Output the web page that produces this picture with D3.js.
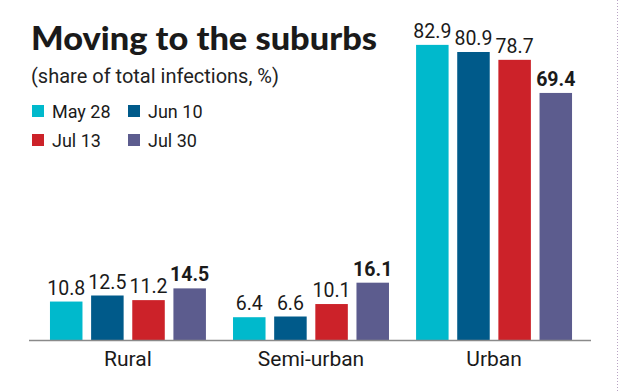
<!DOCTYPE html>
<html>
<head>
<meta charset="utf-8">
<script src="https://cdn.jsdelivr.net/npm/d3@7"></script>
<style>
  body { margin: 0; background: #fff; }
  svg text { font-family: Roboto, "Noto Sans", sans-serif; fill: #1a1a1a; }
</style>
</head>
<body>
<svg id="chart" width="620" height="391"></svg>
<script>
// data
const categories = ["Rural", "Semi-urban", "Urban"];
const seriesNames = ["May 28", "Jun 10", "Jul 13", "Jul 30"];
const seriesColors = ["#00b9cc", "#005a8a", "#cc2229", "#5c5c8e"];
const may28 = [10.8, 6.4, 82.9];
const jun10 = [12.5, 6.6, 80.9];
const jul13 = [11.2, 10.1, 78.7];
const jul30 = [14.5, 16.1, 69.4];
const allSeries = [may28, jun10, jul13, jul30];

const svg = d3.select("#chart");

const x0 = d3.scaleBand().domain(categories).range([28, 594])
  .paddingInner(0.148).paddingOuter(0.12);
const x1 = d3.scaleBand().domain(seriesNames).range([0, x0.bandwidth()])
  .paddingInner(0.21);
const y = d3.scaleLinear().domain([0, 90]).range([340, 19.6]);

// title block
svg.append("text").attr("x", 31).attr("y", 50)
  .attr("textLength", 346).attr("lengthAdjust", "spacingAndGlyphs")
  .style("font-family", "Lato, sans-serif").style("font-weight", 900)
  .style("font-size", "32px").text("Moving to the suburbs");
svg.append("text").attr("x", 31).attr("y", 83)
  .style("font-size", "20px").style("fill", "#222")
  .text("(share of total infections, %)");

// legend
const legend = svg.append("g");
seriesNames.forEach((s, i) => {
  const col = i % 2, row = Math.floor(i / 2);
  const g = legend.append("g")
    .attr("transform", `translate(${32 + col * 96},${105 + row * 29})`);
  g.append("rect").attr("width", 12).attr("height", 12).attr("fill", seriesColors[i]);
  g.append("text").attr("x", 20).attr("y", 12.5).style("font-size", "18px").text(s);
});

// bars
const groups = svg.append("g").selectAll("g")
  .data(categories).join("g")
  .attr("transform", d => `translate(${x0(d)},0)`);

groups.each(function(cat, ci) {
  const g = d3.select(this);
  const rows = seriesNames.map((s, si) => ({ s, si, v: allSeries[si][ci] }));
  g.selectAll("rect").data(rows).join("rect")
    .attr("x", d => x1(d.s))
    .attr("y", d => y(d.v))
    .attr("width", x1.bandwidth())
    .attr("height", d => y(0) - y(d.v))
    .attr("fill", d => seriesColors[d.si]);
  g.selectAll("text.val").data(rows).join("text")
    .attr("class", "val")
    .attr("x", d => x1(d.s) + x1.bandwidth() / 2)
    .attr("y", d => y(d.v) - 7)
    .attr("text-anchor", "middle")
    .style("font-size", "19.5px")
    .style("font-weight", d => d.si === 3 ? 700 : 400)
    .text(d => d.v.toFixed(1));
});

// baseline
svg.append("line").attr("x1", 29).attr("x2", 591)
  .attr("y1", y(0) + 0.5).attr("y2", y(0) + 0.5)
  .attr("stroke", "#8a8a8a").attr("stroke-width", 1.5);

// category labels
svg.append("g").selectAll("text").data(categories).join("text")
  .attr("x", d => x0(d) + x0.bandwidth() / 2)
  .attr("y", 366)
  .attr("text-anchor", "middle")
  .style("font-size", "21px")
  .text(d => d);

// dotted border on the right
svg.append("line").attr("x1", 617.5).attr("x2", 617.5).attr("y1", 0).attr("y2", 391)
  .attr("stroke", "#b9a3c4").attr("stroke-width", 1).attr("stroke-dasharray", "1,2");
</script>
</body>
</html>
